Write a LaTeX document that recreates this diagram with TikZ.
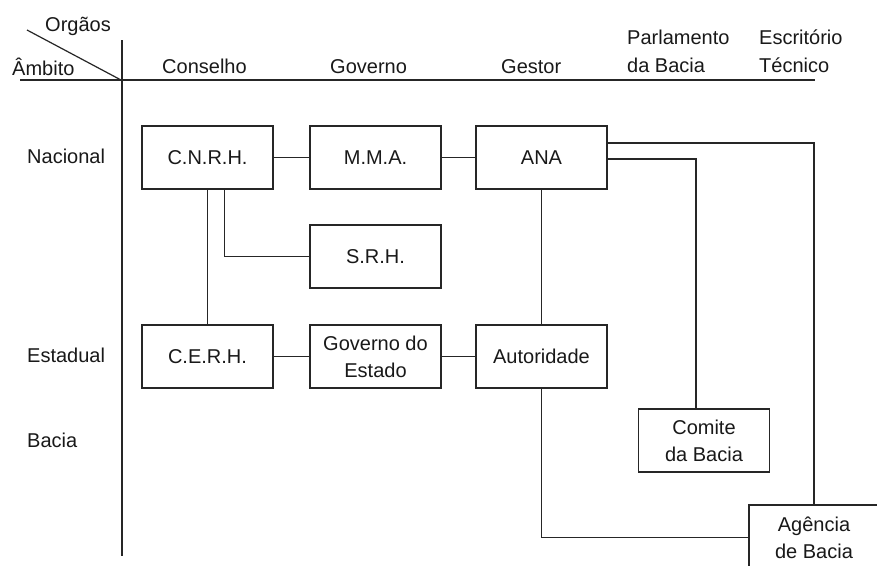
\documentclass[tikz,border=0pt]{standalone}
\usepackage{fontspec}
\setmainfont{Liberation Sans}
\begin{document}
\begin{tikzpicture}[x=1pt,y=-1pt,
  every node/.style={font=\fontsize{20}{27}\selectfont, text=black!90},
  box/.style={draw=black!85, line width=1.6pt, minimum width=131pt, minimum height=63pt, align=center, inner sep=0pt},
  lab/.style={anchor=base west, inner sep=0pt},
  conn/.style={draw=black!85, line width=1.6pt}
]
\useasboundingbox (0,0) rectangle (877,565);
\clip (0,0) rectangle (877,565);
\fill[white] (0,0) rectangle (877,565);

% header
\coordinate (hl) at (20,80);
\coordinate (hr) at (815,80);
\coordinate (vt) at (122,40);
\coordinate (vb) at (122,556);
\coordinate (dg) at (27,30);
\coordinate (corner) at (121,80);
\draw[conn] (hl) -- (hr);
\draw[conn] (vt) -- (vb);
\draw[draw=black!85, line width=1.2pt] (dg) -- (corner);

\node[lab] (orgaos) at (45,31) {Orgãos};
\node[lab] (ambito) at (12,75) {Âmbito};
\node[lab] (conselho) at (162,73) {Conselho};
\node[lab] (governo) at (330,73) {Governo};
\node[lab] (gestor) at (501,73) {Gestor};
\node[lab] (parl1) at (627,44) {Parlamento};
\node[lab] (parl2) at (627,72) {da Bacia};
\node[lab] (escr1) at (759,44) {Escritório};
\node[lab] (escr2) at (759,72) {Técnico};

\node[lab] (nacional) at (27,163) {Nacional};
\node[lab] (estadual) at (27,362) {Estadual};
\node[lab] (bacia) at (27,447) {Bacia};

% boxes
\node[box] (cnrh) at (207.5,157.5) {C.N.R.H.};
\node[box] (mma) at (375.5,157.5) {M.M.A.};
\node[box] (ana) at (541.5,157.5) {ANA};
\node[box] (srh) at (375.5,256.5) {S.R.H.};
\node[box] (cerh) at (207.5,356.5) {C.E.R.H.};
\node[box] (govest) at (375.5,356.5) {Governo do\\Estado};
\node[box] (aut) at (541.5,356.5) {Autoridade};
\node[box] (comite) at (704,440.5) {Comite\\da Bacia};
\node[box, minimum width=130pt, minimum height=65pt] (agencia) at (814,537.5) {Agência\\de Bacia};

% connectors
\draw[conn] (cnrh) -- (mma);
\draw[conn] (mma) -- (ana);
\draw[conn] (cnrh) -- (cerh);
\draw[conn] ([xshift=17pt]cnrh.south) |- (srh.west);
\draw[conn] (ana) -- (aut);
\draw[conn] ([yshift=14.5pt]ana.east) -| (agencia.north);
\draw[conn] ([yshift=-1.5pt]ana.east) -| ([xshift=-8pt]comite.north);
\draw[conn] (cerh) -- (govest);
\draw[conn] (govest) -- (aut);
\draw[conn] (aut.south) |- (agencia.west);
\end{tikzpicture}
\end{document}
